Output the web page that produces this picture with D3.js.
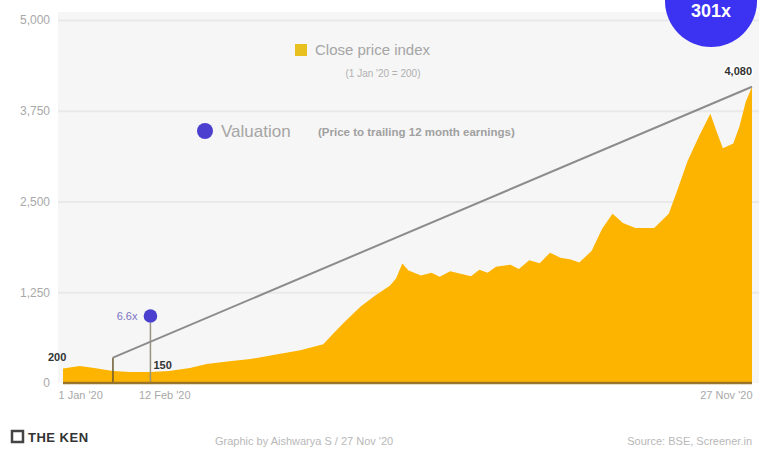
<!DOCTYPE html>
<html>
<head>
<meta charset="utf-8">
<script src="https://cdn.jsdelivr.net/npm/d3@7"></script>
<style>
  html, body { margin: 0; padding: 0; background: #fff; }
  svg { display: block; font-family: "Liberation Sans", Arial, sans-serif; }
</style>
</head>
<body>
<svg id="chart" width="759" height="455"></svg>
<script>
// Close price index, 2020
const dates = [
  "2020-01-01","2020-01-09","2020-01-16","2020-01-25","2020-02-02","2020-02-12",
  "2020-02-21","2020-03-02","2020-03-10","2020-03-21","2020-03-31","2020-04-11",
  "2020-04-24","2020-05-05","2020-05-10","2020-05-15","2020-05-23","2020-05-30",
  "2020-06-06","2020-06-09","2020-06-12","2020-06-15","2020-06-21","2020-06-26",
  "2020-06-30","2020-07-05","2020-07-10","2020-07-15","2020-07-19","2020-07-23",
  "2020-07-27","2020-08-03","2020-08-07","2020-08-12","2020-08-17","2020-08-22",
  "2020-08-27","2020-09-01","2020-09-05","2020-09-11","2020-09-16","2020-09-21",
  "2020-09-26","2020-10-02","2020-10-11","2020-10-18","2020-10-22","2020-10-27",
  "2020-11-02","2020-11-07","2020-11-10","2020-11-13","2020-11-18","2020-11-21",
  "2020-11-24","2020-11-27"
];
const closeIndex = [
  200, 233, 205, 164, 150, 150,
  164, 205, 260, 300, 330, 385,
  450, 535, 685, 835, 1055, 1205,
  1340, 1440, 1645, 1550, 1480, 1520,
  1465, 1540, 1505, 1470, 1560, 1520,
  1600, 1630, 1570, 1690, 1650, 1795,
  1725, 1700, 1660, 1820, 2125, 2330,
  2205, 2135, 2135, 2330, 2645, 3055,
  3425, 3710, 3465, 3235, 3300, 3535,
  3875, 4080
];

// Valuation trend line
const valuationDates = ["2020-01-25", "2020-11-27"];
const valuationLine = [350, 4080];

// Valuation multiples (price to trailing 12 month earnings), drawn as bubbles
const multipleDates = ["2020-02-12", "2020-11-27"];
const multiples = [6.6, 301];
const multipleLabels = ["6.6x", "301x"];

// Axis ticks
const yTicks = [0, 1250, 2500, 3750, 5000];
const xTicks = ["2020-01-01", "2020-02-12", "2020-11-27"];
const xTickLabels = ["1 Jan '20", "12 Feb '20", "27 Nov '20"];

// Point value labels
const labelDates = ["2020-01-01", "2020-02-12", "2020-11-27"];

const parse = d3.timeParse("%Y-%m-%d");
const series = dates.map((d, i) => ({ date: parse(d), value: closeIndex[i] }));
const valuation = valuationDates.map((d, i) => ({ date: parse(d), value: valuationLine[i] }));
const valueAt = d => closeIndex[dates.indexOf(d)];

const svg = d3.select("#chart");
const plot = { left: 58, right: 759, top: 12, bottom: 383 };

const x = d3.scaleTime()
  .domain(d3.extent(series, d => d.date))
  .range([63, 752]);
const y = d3.scaleLinear()
  .domain([0, 5000])
  .range([383, 20]);
const r = d3.scaleSqrt().domain([0, 301]).range([0, 46]);

// Plot background
svg.append("rect")
  .attr("x", plot.left).attr("y", plot.top)
  .attr("width", plot.right - plot.left).attr("height", plot.bottom - plot.top)
  .attr("fill", "#f6f6f6");

// Gridlines + y labels
const yAxis = svg.append("g")
  .attr("transform", `translate(${plot.left},0)`)
  .call(d3.axisLeft(y).tickValues(yTicks).tickSize(-(plot.right - plot.left))
    .tickFormat(d3.format(",")).tickPadding(8));
yAxis.select(".domain").remove();
yAxis.selectAll(".tick line").attr("stroke", "#e9e9e9").attr("stroke-width", 2)
  .filter(d => d === 0).remove();
yAxis.selectAll(".tick text").attr("fill", "#a8a8a8").attr("font-size", 12);

// Price area
const area = d3.area()
  .x(d => x(d.date))
  .y0(y(0))
  .y1(d => y(d.value));
svg.append("path").datum(series)
  .attr("d", area)
  .attr("fill", "#fdb400");

// Drop lines at marked dates
svg.append("line")
  .attr("x1", x(parse(valuationDates[0]))).attr("x2", x(parse(valuationDates[0])))
  .attr("y1", y(valuationLine[0])).attr("y2", y(0))
  .attr("stroke", "#6b5a30").attr("stroke-width", 1.5);
svg.append("line")
  .attr("x1", x(parse(multipleDates[0]))).attr("x2", x(parse(multipleDates[0])))
  .attr("y1", 323).attr("y2", y(0))
  .attr("stroke", "#9a9280").attr("stroke-width", 1.5);

// Baseline
svg.append("line")
  .attr("x1", x.range()[0]).attr("x2", x.range()[1])
  .attr("y1", y(0)).attr("y2", y(0))
  .attr("stroke", "#9a7428").attr("stroke-width", 2.5);

// Valuation line
svg.append("path").datum(valuation)
  .attr("d", d3.line().x(d => x(d.date)).y(d => y(d.value)))
  .attr("fill", "none")
  .attr("stroke", "#8c8c8c")
  .attr("stroke-width", 2);

// x axis labels
const xAxis = svg.append("g")
  .attr("transform", `translate(0,${y(0)})`)
  .call(d3.axisBottom(x).tickValues(xTicks.map(parse)).tickSize(0).tickPadding(8)
    .tickFormat((d, i) => xTickLabels[i]));
xAxis.select(".domain").remove();
xAxis.selectAll(".tick text")
  .attr("fill", "#a8a8a8").attr("font-size", 11)
  .attr("text-anchor", (d, i) => i === xTicks.length - 1 ? "end" : "start")
  .attr("dx", (d, i) => i === 0 ? -5 : (i === 1 ? -12 : 0));

// Value labels on the price area
const valLabels = svg.append("g")
  .attr("font-size", 11).attr("font-weight", "bold").attr("fill", "#333");
valLabels.append("text")
  .attr("x", x(parse(labelDates[0])) - 15).attr("y", y(valueAt(labelDates[0])) - 7)
  .text(d3.format(",")(valueAt(labelDates[0])));
valLabels.append("text")
  .attr("x", x(parse(labelDates[1])) + 3).attr("y", y(valueAt(labelDates[1])) - 3)
  .text(d3.format(",")(valueAt(labelDates[1])));
valLabels.append("text")
  .attr("x", x(parse(labelDates[2]))).attr("y", y(valueAt(labelDates[2])) - 12)
  .attr("text-anchor", "end")
  .attr("stroke", "#fff").attr("stroke-width", 3).attr("paint-order", "stroke")
  .text(d3.format(",")(valueAt(labelDates[2])));

// Valuation bubbles
svg.append("circle")
  .attr("cx", x(parse(multipleDates[0]))).attr("cy", 316)
  .attr("r", r(multiples[0]))
  .attr("fill", "#4b3fcf");
svg.append("text")
  .attr("x", x(parse(multipleDates[0])) - 13).attr("y", 320)
  .attr("text-anchor", "end").attr("font-size", 11).attr("fill", "#7c74c4")
  .text(multipleLabels[0]);

svg.append("circle")
  .attr("cx", x(parse(multipleDates[1])) - 41).attr("cy", 1)
  .attr("r", r(multiples[1]))
  .attr("fill", "#3b32f2");
svg.append("text")
  .attr("x", x(parse(multipleDates[1])) - 41).attr("y", 17)
  .attr("text-anchor", "middle").attr("font-size", 18).attr("font-weight", "bold")
  .attr("fill", "#fff")
  .text(multipleLabels[1]);

// Legend
const legend = svg.append("g");
legend.append("rect").attr("x", 295).attr("y", 44).attr("width", 12).attr("height", 12)
  .attr("fill", "#e8c020");
legend.append("text").attr("x", 315).attr("y", 55)
  .attr("font-size", 15).attr("fill", "#a5a5a5").text("Close price index");
legend.append("text").attr("x", 383).attr("y", 77).attr("text-anchor", "middle")
  .attr("font-size", 10).attr("fill", "#b0b0b0").text("(1 Jan '20 = 200)");
legend.append("circle").attr("cx", 205).attr("cy", 131).attr("r", 8).attr("fill", "#4b3fcf");
legend.append("text").attr("x", 221).attr("y", 137)
  .attr("font-size", 17).attr("fill", "#a5a5a5").text("Valuation");
legend.append("text").attr("x", 318).attr("y", 136)
  .attr("font-size", 11.5).attr("font-weight", "bold").attr("fill", "#a0a0a0")
  .text("(Price to trailing 12 month earnings)");

// Footer
const footer = svg.append("g");
footer.append("rect").attr("x", 12).attr("y", 431).attr("width", 11).attr("height", 11)
  .attr("fill", "none").attr("stroke", "#444").attr("stroke-width", 2.5);
footer.append("text").attr("x", 28).attr("y", 442)
  .attr("font-size", 13).attr("font-weight", "bold").attr("fill", "#333")
  .attr("letter-spacing", "0.5").text("THE KEN");
footer.append("text").attr("x", 215).attr("y", 445)
  .attr("font-size", 11).attr("fill", "#b8b8b8").text("Graphic by Aishwarya S / 27 Nov '20");
footer.append("text").attr("x", 752).attr("y", 445).attr("text-anchor", "end")
  .attr("font-size", 11).attr("fill", "#b8b8b8").text("Source: BSE, Screener.in");
</script>
</body>
</html>
